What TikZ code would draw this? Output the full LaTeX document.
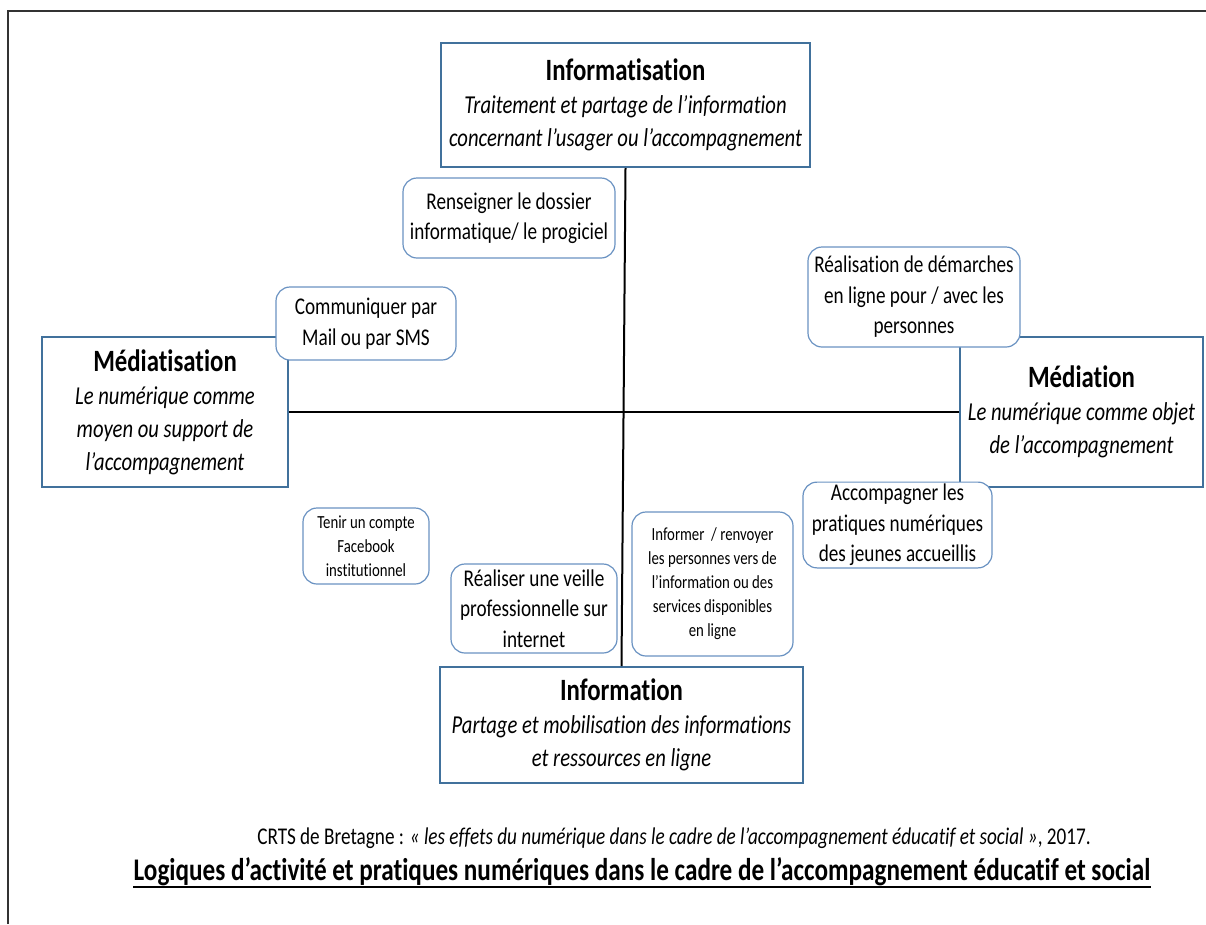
\documentclass[tikz,border=0pt]{standalone}
\usepackage{fontspec}
\setmainfont[FakeStretch=0.8, Ligatures=NoCommon]{Carlito}
\definecolor{bigblue}{HTML}{41719C}
\definecolor{smallblue}{HTML}{6A92C2}

\begin{document}
\begin{tikzpicture}[x=1pt, y=-1pt,
  pole/.style={draw=bigblue, line width=2pt, fill=white, align=center, inner sep=2pt,
    font=\fontsize{25.8}{33}\selectfont\itshape},
  practice/.style={draw=smallblue, line width=1.2pt, fill=white, rounded corners=14pt,
    align=center, inner sep=2pt, font=\fontsize{24}{30.5}\selectfont},
  smallpractice/.style={practice, font=\fontsize{18.5}{24}\selectfont},
  axis/.style={draw=black, line width=2pt}]
\useasboundingbox (0,0) rectangle (1206,924);
\draw[line width=1.5pt, black!80] (8,924) -- (8,11) -- (1206,11);

% the four poles
\node[pole, minimum width=369pt, minimum height=124pt] (informatisation) at (625.5,105)
  {{\fontsize{31}{36}\selectfont\bfseries\upshape Informatisation}\\
   Traitement et partage de l’information\\ concernant l’usager ou l’accompagnement};
\node[pole, minimum width=246pt, minimum height=150pt] (mediatisation) at (165,412)
  {{\fontsize{31}{36}\selectfont\bfseries\upshape Médiatisation}\\
   Le numérique comme\\ moyen ou support de\\ l’accompagnement};
\node[pole, minimum width=243pt, minimum height=150pt] (mediation) at (1081.5,412)
  {{\fontsize{31}{36}\selectfont\bfseries\upshape Médiation}\\
   Le numérique comme objet\\ de l’accompagnement};
\node[pole, minimum width=363pt, minimum height=116pt] (information) at (621.5,725)
  {{\fontsize{31}{36}\selectfont\bfseries\upshape Information}\\
   Partage et mobilisation des informations\\ et ressources en ligne};

% axes
\draw[axis] (informatisation.south) -- (information.north);
\draw[axis] (mediatisation.east) -- (mediation.west);

% practices
\node[practice, minimum width=212pt, minimum height=80pt] (dossier) at (509,218)
  {Renseigner le dossier\\ informatique/ le progiciel};
\node[practice, minimum width=180pt, minimum height=73pt] (mail) at (366,323.5)
  {Communiquer par\\ Mail ou par SMS};
\node[smallpractice, minimum width=126pt, minimum height=76pt] (facebook) at (366,546)
  {Tenir un compte\\ Facebook\\ institutionnel};
\node[practice, minimum width=212pt, minimum height=100pt] (demarches) at (914,297)
  {Réalisation de démarches\\ en ligne pour / avec les\\ personnes};
\node[practice, minimum width=189pt, minimum height=84pt] (jeunes) at (897.5,525)
  {Accompagner les\\ pratiques numériques\\ des jeunes accueillis};
\node[practice, minimum width=166pt, minimum height=89pt] (veille) at (534,608.5)
  {Réaliser une veille\\ professionnelle sur\\ internet};
\node[smallpractice, minimum width=161pt, minimum height=144pt] (renvoyer) at (712.5,584)
  {Informer~ / renvoyer\\ les personnes vers de\\ l’information ou des\\ services disponibles\\ en ligne};

% source and title
\node[font=\fontsize{24}{28}\selectfont, anchor=base] (source) at (674,844)
  {CRTS de Bretagne : \textit{« les effets du numérique dans le cadre de l’accompagnement éducatif et social »}, 2017.};
\node[font=\fontsize{31.5}{36}\selectfont\bfseries, inner sep=0pt, anchor=base] (titre) at (642,880)
  {Logiques d’activité et pratiques numériques dans le cadre de l’accompagnement éducatif et social};
\draw[line width=2.5pt] ([yshift=-7pt]titre.base west) -- ([yshift=-7pt]titre.base east);
\end{tikzpicture}
\end{document}
